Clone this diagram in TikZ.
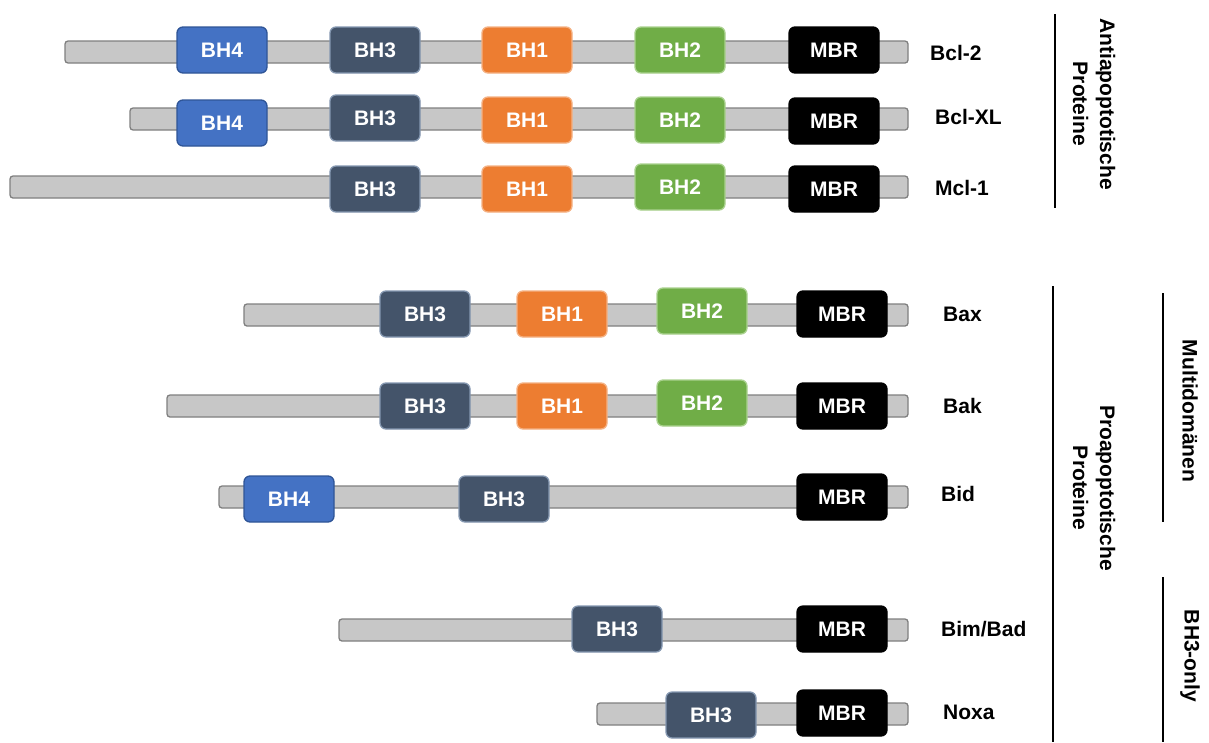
\documentclass[tikz,border=0pt]{standalone}
\usepackage{fontspec}
\setmainfont{Liberation Sans}
\definecolor{cbh4}{HTML}{4472C4}
\definecolor{cbh4b}{HTML}{2F5597}
\definecolor{cbh3}{HTML}{44546A}
\definecolor{cbh3b}{HTML}{8497B0}
\definecolor{cbh1}{HTML}{ED7D31}
\definecolor{cbh1b}{HTML}{F4B183}
\definecolor{cbh2}{HTML}{70AD47}
\definecolor{cbh2b}{HTML}{A9D18E}
\definecolor{cbar}{HTML}{C7C7C7}
\definecolor{cbarb}{HTML}{7F7F7F}
\begin{document}
\begin{tikzpicture}[x=1pt,y=-1pt,
  barbox/.style={draw=cbarb, fill=cbar, line width=1.3pt, rounded corners=3pt, minimum height=22pt, inner sep=0pt},
  dom/.style={rounded corners=6pt, line width=1.3pt, minimum width=90pt, minimum height=46pt, inner sep=0pt, text=white, font=\fontsize{21}{23}\selectfont\bfseries},
  bhfour/.style={dom, fill=cbh4, draw=cbh4b},
  bhthree/.style={dom, fill=cbh3, draw=cbh3b},
  bhone/.style={dom, fill=cbh1, draw=cbh1b},
  bhtwo/.style={dom, fill=cbh2, draw=cbh2b},
  mbr/.style={dom, fill=black, draw=black},
  lab/.style={anchor=west, font=\fontsize{21}{23}\selectfont\bfseries, inner sep=0pt},
  grp/.style={rotate=-90, align=center, font=\fontsize{21}{27}\selectfont\bfseries, inner sep=0pt},
  sep/.style={line width=2pt, black}
]
\useasboundingbox (0,0) rectangle (1209,742);
% Bcl-2
\node[barbox, minimum width=843pt] (r1) at (486.5,52) {};
\node[bhfour] (r1a) at (222,50) {BH4};
\node[bhthree] (r1b) at (375,50) {BH3};
\node[bhone] (r1c) at (527,50) {BH1};
\node[bhtwo] (r1d) at (680,50) {BH2};
\node[mbr] (r1e) at (834,50) {MBR};
\node[lab] (l1) at (930,53) {Bcl-2};
% Bcl-XL
\node[barbox, minimum width=778pt] (r2) at (519,119) {};
\node[bhfour] (r2a) at (222,123) {BH4};
\node[bhthree] (r2b) at (375,118) {BH3};
\node[bhone] (r2c) at (527,120) {BH1};
\node[bhtwo] (r2d) at (680,120) {BH2};
\node[mbr] (r2e) at (834,121) {MBR};
\node[lab] (l2) at (935,117) {Bcl-XL};
% Mcl-1
\node[barbox, minimum width=898pt] (r3) at (459,187) {};
\node[bhthree] (r3b) at (375,189) {BH3};
\node[bhone] (r3c) at (527,189) {BH1};
\node[bhtwo] (r3d) at (680,187) {BH2};
\node[mbr] (r3e) at (834,189) {MBR};
\node[lab] (l3) at (935,188) {Mcl-1};
% Bax
\node[barbox, minimum width=664pt] (r4) at (576,315) {};
\node[bhthree] (r4b) at (425,314) {BH3};
\node[bhone] (r4c) at (562,314) {BH1};
\node[bhtwo] (r4d) at (702,311) {BH2};
\node[mbr] (r4e) at (842,314) {MBR};
\node[lab] (l4) at (943,314) {Bax};
% Bak
\node[barbox, minimum width=741pt] (r5) at (537.5,406) {};
\node[bhthree] (r5b) at (425,406) {BH3};
\node[bhone] (r5c) at (562,406) {BH1};
\node[bhtwo] (r5d) at (702,403) {BH2};
\node[mbr] (r5e) at (842,406) {MBR};
\node[lab] (l5) at (943,406) {Bak};
% Bid
\node[barbox, minimum width=689pt] (r6) at (563.5,497) {};
\node[bhfour] (r6a) at (289,499) {BH4};
\node[bhthree] (r6b) at (504,499) {BH3};
\node[mbr] (r6e) at (842,497) {MBR};
\node[lab] (l6) at (941,494) {Bid};
% Bim/Bad
\node[barbox, minimum width=569pt] (r7) at (623.5,630) {};
\node[bhthree] (r7b) at (617,629) {BH3};
\node[mbr] (r7e) at (842,629) {MBR};
\node[lab] (l7) at (941,629) {Bim/Bad};
% Noxa
\node[barbox, minimum width=311pt] (r8) at (752.5,714) {};
\node[bhthree] (r8b) at (711,715) {BH3};
\node[mbr] (r8e) at (842,713) {MBR};
\node[lab] (l8) at (943,712) {Noxa};
% group lines and labels
\coordinate (s1a) at (1055,14); \coordinate (s1b) at (1055,208);
\draw[sep] (s1a) -- (s1b);
\node[grp] (g1) at (1094,104) {Antiapoptotische\\Proteine};
\coordinate (s2a) at (1053,286); \coordinate (s2b) at (1053,742);
\draw[sep] (s2a) -- (s2b);
\node[grp] (g2) at (1094,488) {Proapoptotische\\Proteine};
\coordinate (s3a) at (1163,293); \coordinate (s3b) at (1163,522);
\draw[sep] (s3a) -- (s3b);
\node[grp] (g3) at (1190,411) {Multidomänen};
\coordinate (s4a) at (1163,577); \coordinate (s4b) at (1163,742);
\draw[sep] (s4a) -- (s4b);
\node[grp] (g4) at (1190,656) {BH3-only};
\end{tikzpicture}
\end{document}
